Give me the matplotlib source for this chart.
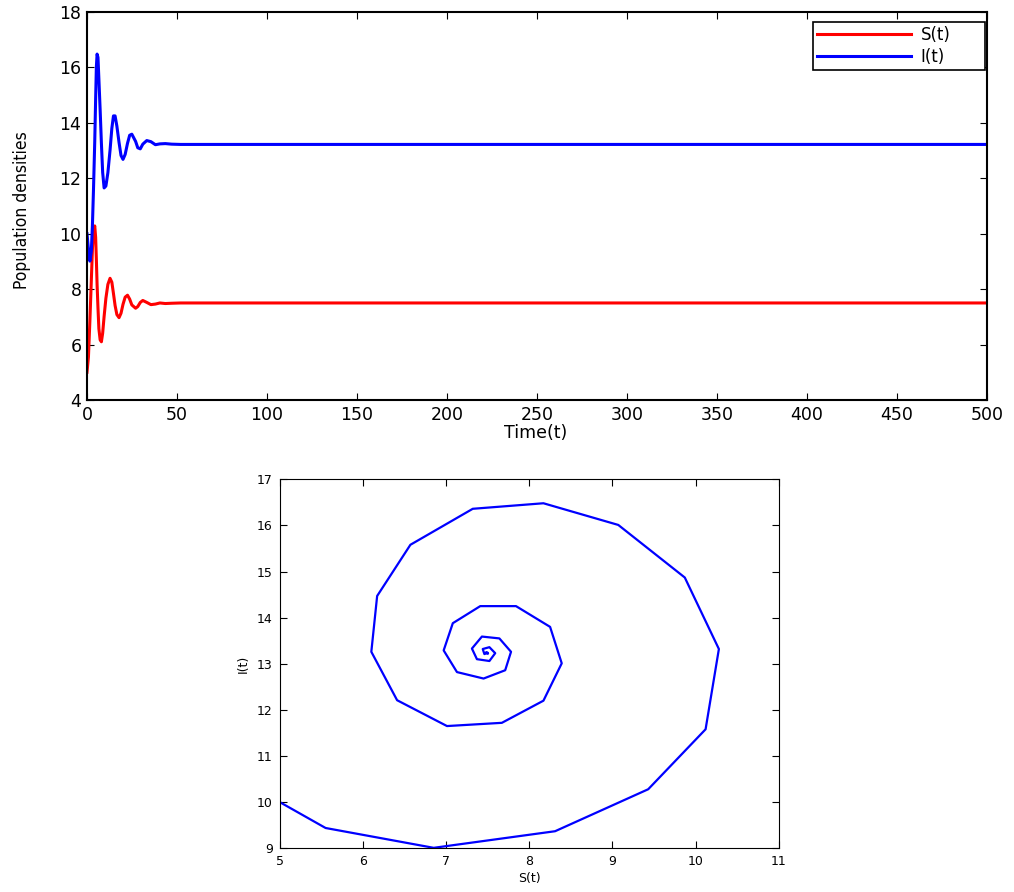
import matplotlib
matplotlib.use("Agg")
import matplotlib.pyplot as plt

# trajectory (phase plane vertices + time from the top panel)
t = [0, 0.8, 1.6, 2.4, 3.0, 3.6, 4.3, 4.8, 5.2, 5.6, 6.1, 6.6, 7.3, 8.0, 8.7,
     9.5, 10.5, 11.6, 12.8, 13.8, 14.7, 15.6, 16.6, 17.8, 18.9, 20.0, 21.2,
     22.5, 23.7, 24.9, 27.0, 28.2, 29.6, 31.0, 33.2, 35.5, 38.0, 40.5, 43.5,
     47.0, 52.0, 500.0]
S = [5.00, 5.55, 6.85, 8.31, 9.43, 10.12, 10.28, 9.87, 9.07, 8.17, 7.32, 6.57,
     6.17, 6.10, 6.41, 7.01, 7.67, 8.17, 8.39, 8.25, 7.84, 7.41, 7.08, 6.97,
     7.13, 7.45, 7.71, 7.78, 7.64, 7.43, 7.31, 7.37, 7.52, 7.59, 7.52, 7.44,
     7.46, 7.50, 7.48, 7.49, 7.50, 7.50]
I = [10.00, 9.44, 9.01, 9.37, 10.28, 11.58, 13.32, 14.87, 16.01, 16.48, 16.36,
     15.58, 14.47, 13.26, 12.21, 11.65, 11.72, 12.20, 13.01, 13.80, 14.25,
     14.25, 13.88, 13.29, 12.82, 12.68, 12.86, 13.26, 13.55, 13.59, 13.33,
     13.10, 13.06, 13.23, 13.36, 13.32, 13.21, 13.24, 13.25, 13.23, 13.22,
     13.22]

fig = plt.figure(figsize=(10.14, 8.92), dpi=100)

# time series
ax1 = fig.add_axes([0.0858, 0.5516, 0.8876, 0.435])
ax1.plot(t, S, color="red", lw=2.2, label="S(t)")
ax1.plot(t, I, color="blue", lw=2.2, label="I(t)")
ax1.set_xlim(0, 500)
ax1.set_ylim(4, 18)
ax1.set_xticks(range(0, 501, 50))
ax1.set_yticks(range(4, 19, 2))
ax1.tick_params(direction="in", top=True, right=True, labelsize=12.5, pad=4, length=5)
ax1.set_xlabel("Time(t)", fontsize=12.5)
ax1.xaxis.set_label_coords(0.498, -0.062)
ax1.xaxis.label.set_va("top")
ax1.set_ylabel("Population densities", fontsize=12.5, fontstretch="condensed")
ax1.yaxis.set_label_coords(-0.062, 0.49)
for sp in ax1.spines.values():
    sp.set_linewidth(1.5)
leg = ax1.legend(loc="upper right", bbox_to_anchor=(0.8067, 0.80, 0.191, 0.174),
                 mode="expand", fontsize=12, fancybox=False, framealpha=1,
                 edgecolor="black", borderaxespad=0, handlelength=5.6,
                 labelspacing=0.2, borderpad=0.25, handletextpad=0.6)
leg.get_frame().set_linewidth(1.2)

# phase plane
ax2 = fig.add_axes([0.276, 0.049, 0.492, 0.4137])
ax2.plot(S, I, color="blue", lw=1.6)
ax2.set_xlim(5, 11)
ax2.set_ylim(9, 17)
ax2.tick_params(direction="in", top=True, right=True, labelsize=9, pad=5, length=5)
ax2.set_xlabel("S(t)", fontsize=9, labelpad=3)
ax2.set_ylabel("I(t)", fontsize=9, labelpad=5)

fig.savefig("out.png", dpi=100)
